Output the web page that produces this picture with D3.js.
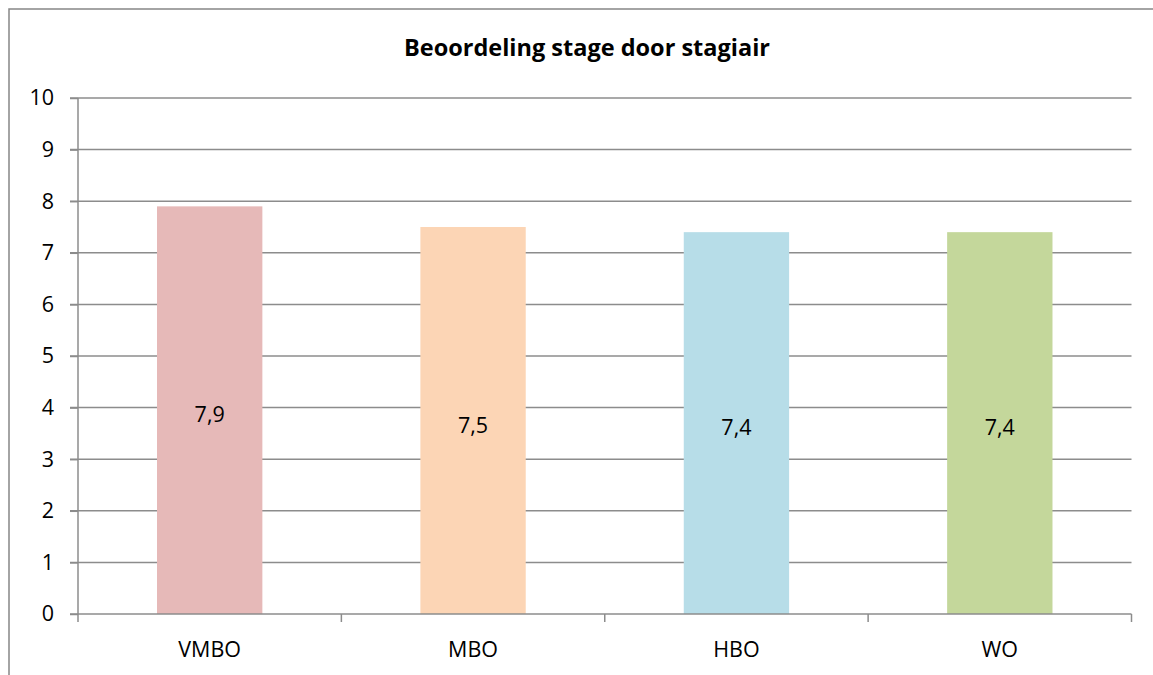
<!DOCTYPE html>
<html><head><meta charset="utf-8">
<script src="https://cdn.jsdelivr.net/npm/d3@7"></script>
<style>html,body{margin:0;padding:0;background:#fff;} svg{display:block;}</style>
</head><body>
<svg id="c" width="1153" height="675"></svg>
<script>
const categories = ["VMBO", "MBO", "HBO", "WO"];
const values = [7.9, 7.5, 7.4, 7.4];
const valueLabels = ["7,9", "7,5", "7,4", "7,4"];
const colors = ["#E6B9B8", "#FCD5B5", "#B7DDE8", "#C4D79B"];
const yTicks = [0,1,2,3,4,5,6,7,8,9,10];
const title = "Beoordeling stage door stagiair";

const svg = d3.select("#c");
const font = "'Open Sans', 'Liberation Sans', sans-serif";
const fs = 21.5;
const m = {left: 78, right: 1131.5, top: 98, bottom: 614};

// outer frame
svg.append("rect").attr("x", 9).attr("y", 9).attr("width", 1170).attr("height", 700)
  .attr("fill", "none").attr("stroke", "#868686").attr("stroke-width", 1.5);

const x = d3.scaleBand().domain(categories).range([m.left, m.right]).paddingInner(0.6).paddingOuter(0.3);
const xb = d3.scaleBand().domain(categories).range([m.left, m.right]);
const y = d3.scaleLinear().domain([0, 10]).range([m.bottom, m.top]);

// gridlines
svg.append("g").selectAll("line").data(yTicks.filter(d => d > 0)).join("line")
  .attr("x1", m.left - 8).attr("x2", m.right)
  .attr("y1", d => y(d)).attr("y2", d => y(d))
  .attr("stroke", "#8c8c8c").attr("stroke-width", 1.5);

// bars
svg.append("g").selectAll("rect").data(categories).join("rect")
  .attr("x", d => x(d)).attr("width", x.bandwidth())
  .attr("y", (d, i) => y(values[i])).attr("height", (d, i) => y(0) - y(values[i]))
  .attr("fill", (d, i) => colors[i]);

// y axis
const yAxis = svg.append("g").attr("transform", `translate(${m.left},0)`)
  .call(d3.axisLeft(y).tickValues(yTicks).tickSize(8).tickPadding(16).tickFormat(d3.format("d")));
yAxis.select(".domain").attr("stroke", "#8c8c8c").attr("stroke-width", 1.5).attr("d", `M0,${m.top}V${m.bottom}`);
yAxis.selectAll(".tick line").attr("stroke", "#8c8c8c").attr("stroke-width", 1.5);
yAxis.selectAll("text").attr("font-family", font).attr("font-size", fs).attr("fill", "#000");

// x axis
const xAxis = svg.append("g").attr("transform", `translate(0,${m.bottom})`);
xAxis.append("line").attr("x1", m.left - 8).attr("x2", m.right).attr("stroke", "#8c8c8c").attr("stroke-width", 1.5);
const bounds = categories.map(c => xb(c)).concat([m.right]);
xAxis.selectAll("line.tk").data(bounds).join("line").attr("class", "tk")
  .attr("x1", d => d).attr("x2", d => d).attr("y1", 0).attr("y2", 8)
  .attr("stroke", "#8c8c8c").attr("stroke-width", 1.5);
xAxis.selectAll("text").data(categories).join("text")
  .attr("x", d => xb(d) + xb.bandwidth() / 2).attr("y", 43)
  .attr("text-anchor", "middle").attr("font-family", font).attr("font-size", fs).attr("fill", "#000")
  .text(d => d);

// data labels
svg.append("g").selectAll("text").data(categories).join("text")
  .attr("x", d => x(d) + x.bandwidth() / 2)
  .attr("y", (d, i) => (y(values[i]) + y(0)) / 2 + 12)
  .attr("text-anchor", "middle").attr("font-family", font).attr("font-size", fs).attr("fill", "#000")
  .text((d, i) => valueLabels[i]);

// title
svg.append("text").attr("x", 587).attr("y", 56).attr("text-anchor", "middle")
  .attr("font-family", font).attr("font-weight", "bold").attr("font-size", 23.5).attr("fill", "#000")
  .text(title);
</script>
</body></html>
